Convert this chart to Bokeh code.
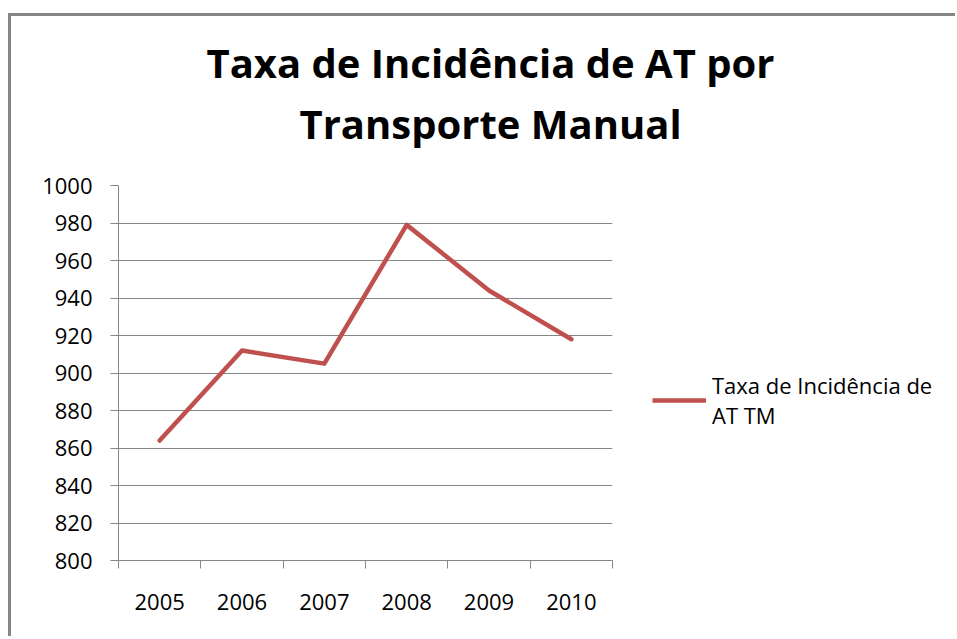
from bokeh.plotting import figure
from bokeh.layouts import column, row
from bokeh.models import FixedTicker, Legend, LegendItem, Title
from bokeh.embed import file_html
from bokeh.resources import INLINE

# ---- data ----
years = ["2005", "2006", "2007", "2008", "2009", "2010"]
rates = [864, 912, 905, 979, 944, 918]
y_ticks = [800, 820, 840, 860, 880, 900, 920, 940, 960, 980, 1000]
title_lines = ["Taxa de Incidência de AT por", "Transporte Manual"]
series_name = "Taxa de Incidência de\nAT TM"

GRAY = "#868686"
RED = "#C0504D"
FONT = "Open Sans"

xpos = [i + 0.5 for i in range(len(years))]
bounds = list(range(len(years) + 1))

# ---------- title strip ----------
pt = figure(width=944, height=150, output_backend="svg", toolbar_location=None,
            x_axis_type=None, y_axis_type=None,
            min_border_left=107, min_border_right=343, min_border_top=136,
            min_border_bottom=0)
pt.outline_line_color = None
pt.border_fill_color = "white"
pt.background_fill_color = "white"
pt.title.text = title_lines[0]
pt.title.align = "left"
pt.title.offset = 88
pt.title.standoff = 4
pt.title.text_font = FONT
pt.title.text_font_style = "bold"
pt.title.text_font_size = "40px"
pt.title.text_color = "black"
t2 = Title(text=title_lines[1], align="left", offset=181, standoff=4, text_font=FONT,
           text_font_style="bold", text_font_size="40px", text_color="black")
pt.add_layout(t2, "above")

# ---------- main chart ----------
p = figure(width=611, height=470, output_backend="svg", toolbar_location=None,
           x_range=(0, len(years)), y_range=(y_ticks[0], y_ticks[-1]),
           min_border_left=107, min_border_right=10, min_border_top=19,
           min_border_bottom=76)
p.outline_line_color = None
p.background_fill_color = "white"
p.border_fill_color = "white"

xa = p.xaxis[0]
xa.ticker = FixedTicker(ticks=xpos, minor_ticks=bounds)
xa.major_label_overrides = {x: y for x, y in zip(xpos, years)}
xa.major_tick_out = 0
xa.major_tick_in = 0
xa.minor_tick_out = 8
xa.minor_tick_in = 0
xa.minor_tick_line_color = GRAY
xa.axis_line_color = GRAY
xa.major_label_text_font = FONT
xa.major_label_text_font_size = "22px"
xa.major_label_text_color = "black"
xa.major_label_standoff = 25

ya = p.yaxis[0]
ya.ticker = FixedTicker(ticks=y_ticks, minor_ticks=[])
ya.major_tick_out = 8
ya.major_tick_in = 0
ya.major_tick_line_color = GRAY
ya.axis_line_color = GRAY
ya.major_label_text_font = FONT
ya.major_label_text_font_size = "22px"
ya.major_label_text_color = "black"
ya.major_label_standoff = 18

p.xgrid.grid_line_color = None
p.ygrid.grid_line_color = GRAY
p.ygrid.grid_line_width = 1

p.line(xpos, rates, line_color=RED, line_width=4.5, line_join="round", line_cap="round")

# ---------- legend panel (series drawn out of view, only its legend entry shows) ----------
pl = figure(width=333, height=470, output_backend="svg", toolbar_location=None,
            x_axis_type=None, y_axis_type=None, min_border=0,
            x_range=(-20, -19), y_range=(y_ticks[0], y_ticks[-1]))
pl.outline_line_color = None
pl.border_fill_color = "white"
pl.background_fill_color = "white"
proxy = pl.line(xpos, rates, line_color=RED, line_width=4.5)
legend = Legend(items=[LegendItem(label=series_name, renderers=[proxy])],
                location=(30, 130), padding=0, margin=0, border_line_color=None,
                background_fill_alpha=0, glyph_width=54, label_standoff=6,
                label_text_font=FONT, label_text_font_size="22px",
                label_text_color="black")
pl.add_layout(legend, "center")

layout = column(pt, row(p, pl))
layout.styles = {"position": "relative", "top": "13px", "left": "8px",
                 "border-left": "3px solid #868686", "border-top": "3px solid #868686"}

open("out.html", "w").write(file_html(layout, INLINE))
